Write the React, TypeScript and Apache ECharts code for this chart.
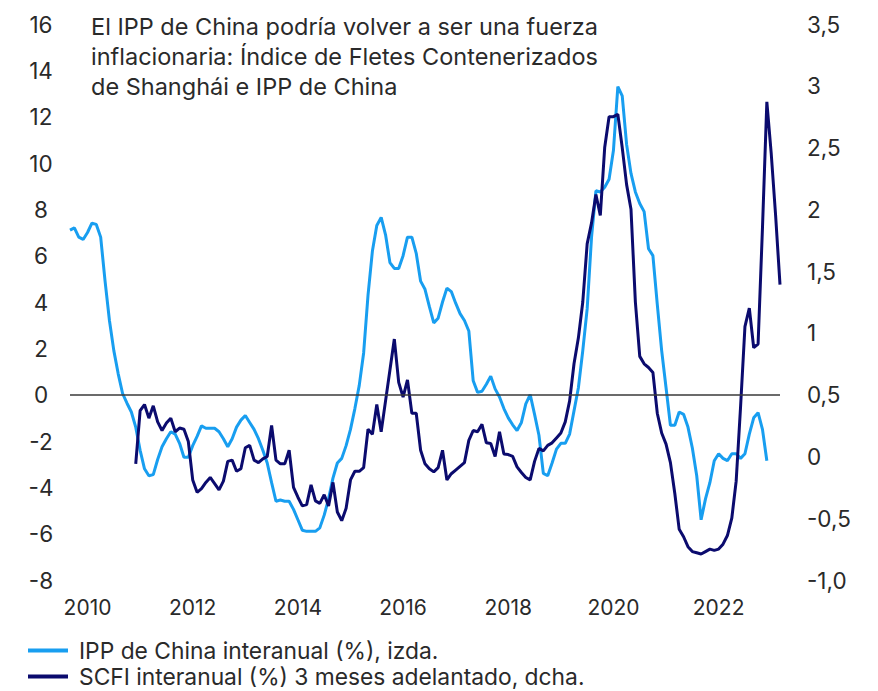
import React, { useEffect, useRef } from "react";
import * as echarts from "echarts";

const titleLines = [
  "El IPP de China podría volver a ser una fuerza",
  "inflacionaria: Índice de Fletes Contenerizados",
  "de Shanghái e IPP de China",
];

const xLabelYears = [2010, 2012, 2014, 2016, 2018, 2020, 2022];

// months counted from Jan 2010
const ppiStartMonth = -4; // Sep 2009
const scfiStartMonth = 11; // Dec 2010

const ppiName = "IPP de China interanual (%), izda.";
const scfiName = "SCFI interanual (%) 3 meses adelantado, dcha.";

const ppiValues = [
  7.1, 7.2, 6.8, 6.7, 7.0, 7.4, 7.35, 6.8, 4.9, 3.2,
  1.9, 0.9, 0.05, -0.37, -0.75, -1.4, -2.4, -3.2, -3.5, -3.45,
  -2.8, -2.25, -1.9, -1.6, -1.7, -2.1, -2.7, -2.7, -2.2, -1.8,
  -1.35, -1.45, -1.45, -1.45, -1.6, -1.9, -2.25, -1.9, -1.4, -1.1,
  -0.9, -1.2, -1.5, -1.9, -2.4, -2.95, -3.8, -4.6, -4.55, -4.6,
  -4.6, -4.95, -5.4, -5.85, -5.9, -5.9, -5.9, -5.75, -5.2, -4.5,
  -3.6, -2.95, -2.75, -2.2, -1.5, -0.6, 0.4, 1.8, 4.3, 6.2,
  7.3, 7.65, 6.9, 5.7, 5.45, 5.45, 6.0, 6.8, 6.8, 6.1,
  4.9, 4.55, 3.8, 3.1, 3.3, 4.0, 4.6, 4.45, 3.95, 3.5,
  3.2, 2.75, 0.6, 0.1, 0.15, 0.45, 0.8, 0.25, -0.1, -0.6,
  -1.0, -1.3, -1.55, -1.2, -0.4, 0.0, -0.85, -1.75, -3.4, -3.5,
  -2.95, -2.35, -2.1, -2.1, -1.7, -0.7, 0.3, 1.9, 3.7, 6.8,
  8.8, 8.75, 8.95, 9.3, 10.55, 13.3, 12.9, 10.8, 9.55, 8.75,
  8.25, 7.9, 6.3, 6.0, 3.9, 1.9, 0.3, -1.32, -1.32, -0.75,
  -0.85, -1.4, -2.3, -3.5, -5.4, -4.5, -3.8, -2.85, -2.55, -2.75,
  -2.85, -2.55, -2.55, -2.75, -2.55, -1.7, -1.0, -0.78, -1.5, -2.85,
];

const scfiValues = [
  -0.06, 0.37, 0.42, 0.31, 0.41, 0.28, 0.21, 0.27, 0.31, 0.2,
  0.23, 0.22, 0.12, -0.19, -0.29, -0.26, -0.21, -0.17, -0.22, -0.27,
  -0.2, -0.04, -0.03, -0.12, -0.1, 0.07, 0.09, -0.03, -0.05, -0.02,
  0.0, 0.25, -0.03, -0.06, -0.06, 0.05, -0.25, -0.33, -0.4, -0.39,
  -0.23, -0.36, -0.38, -0.31, -0.4, -0.21, -0.45, -0.52, -0.42, -0.19,
  -0.12, -0.12, -0.09, 0.22, 0.18, 0.42, 0.2, 0.45, 0.7, 0.95,
  0.6, 0.48, 0.62, 0.35, 0.35, 0.05, -0.06, -0.1, -0.125, -0.09,
  0.05, -0.19, -0.14, -0.11, -0.08, -0.05, 0.13, 0.21, 0.2, 0.26,
  0.11, 0.105, 0.0, 0.2, 0.02, 0.015, 0.0, -0.084, -0.13, -0.17,
  -0.19, -0.04, 0.065, 0.045, 0.09, 0.11, 0.15, 0.19, 0.28, 0.45,
  0.75, 0.96, 1.25, 1.72, 1.89, 2.12, 1.95, 2.5, 2.75, 2.75,
  2.77, 2.5, 2.2, 2.0, 1.25, 0.81, 0.75, 0.72, 0.68, 0.35,
  0.19, 0.1, -0.05, -0.3, -0.59, -0.65, -0.73, -0.77, -0.78, -0.79,
  -0.77, -0.75, -0.76, -0.75, -0.71, -0.64, -0.5, -0.2, 0.4, 1.05,
  1.2, 0.88, 0.91, 1.85, 2.87, 2.45, 1.95, 1.39,
];

const FONT = "Inter, 'Noto Sans', sans-serif";
const PPI_COLOR = "#189ef0";
const SCFI_COLOR = "#0b0b6e";
const TEXT_COLOR = "#2a2a2a";

export default function App() {
  const ref = useRef<HTMLDivElement>(null);

  useEffect(() => {
    if (!ref.current) return;
    const chart = echarts.init(ref.current, null, { renderer: "svg" });
    const ppiData = ppiValues.map((v, i) => [ppiStartMonth + i, v]);
    const scfiData = scfiValues.map((v, i) => [scfiStartMonth + i, v]);
    const minX = ppiStartMonth;
    const maxX = scfiStartMonth + scfiValues.length - 1;
    const labelMonths = xLabelYears.map((y) => (y - 2010) * 12);

    const legendBase = {
      orient: "horizontal",
      left: 28,
      padding: 0,
      icon: "rect",
      itemWidth: 40,
      itemHeight: 4,
      textStyle: {
        fontFamily: FONT,
        fontSize: 22.8,
        color: TEXT_COLOR,
        padding: [0, 0, 0, 6],
      },
    };

    chart.setOption({
      animation: false,
      textStyle: { fontFamily: FONT },
      title: {
        text: titleLines.join("\n"),
        left: 86,
        top: 6,
        textStyle: {
          fontFamily: FONT,
          fontSize: 23.5,
          lineHeight: 30,
          fontWeight: "normal",
          color: TEXT_COLOR,
        },
      },
      grid: { left: 70, right: 98, top: 24, bottom: 111, containLabel: false },
      legend: [
        { ...legendBase, data: [ppiName], top: 639 },
        { ...legendBase, data: [scfiName], top: 665 },
      ],
      xAxis: {
        type: "value",
        min: minX,
        max: maxX,
        interval: 1,
        axisLine: { show: false },
        axisTick: { show: false },
        splitLine: { show: false },
        axisLabel: {
          margin: 17,
          fontSize: 21,
          color: TEXT_COLOR,
          fontFamily: FONT,
          showMinLabel: true,
          showMaxLabel: true,
          formatter: (v: number) =>
            labelMonths.indexOf(v) >= 0 ? String(2010 + v / 12) : "",
        },
      },
      yAxis: [
        {
          type: "value",
          position: "left",
          min: -8,
          max: 16,
          interval: 2,
          axisLine: { show: false },
          axisTick: { show: false },
          splitLine: { show: false },
          axisLabel: {
            fontSize: 22.5,
            color: TEXT_COLOR,
            fontFamily: FONT,
            align: "center",
            margin: 29,
          },
        },
        {
          type: "value",
          position: "right",
          min: -1,
          max: 3.5,
          interval: 0.5,
          axisLine: { show: false },
          axisTick: { show: false },
          splitLine: { show: false },
          axisLabel: {
            fontSize: 22.5,
            color: TEXT_COLOR,
            fontFamily: FONT,
            align: "left",
            margin: 27,
            formatter: (v: number) =>
              v === -1 ? "-1,0" : String(v).replace(".", ","),
          },
        },
      ],
      series: [
        {
          name: ppiName,
          type: "line",
          yAxisIndex: 0,
          data: ppiData,
          showSymbol: false,
          symbol: "none",
          lineStyle: { width: 3, color: PPI_COLOR },
          itemStyle: { color: PPI_COLOR },
          markLine: {
            silent: true,
            symbol: ["none", "none"],
            label: { show: false },
            lineStyle: { color: "#3a3a3a", width: 1.6, type: "solid" },
            data: [{ yAxis: 0 }],
          },
        },
        {
          name: scfiName,
          type: "line",
          yAxisIndex: 1,
          data: scfiData,
          showSymbol: false,
          symbol: "none",
          lineStyle: { width: 3, color: SCFI_COLOR },
          itemStyle: { color: SCFI_COLOR },
        },
      ],
    });
    return () => chart.dispose();
  }, []);

  return (
    <div
      ref={ref}
      style={{ position: "absolute", left: 0, top: 0, width: 878, height: 691 }}
    />
  );
}
